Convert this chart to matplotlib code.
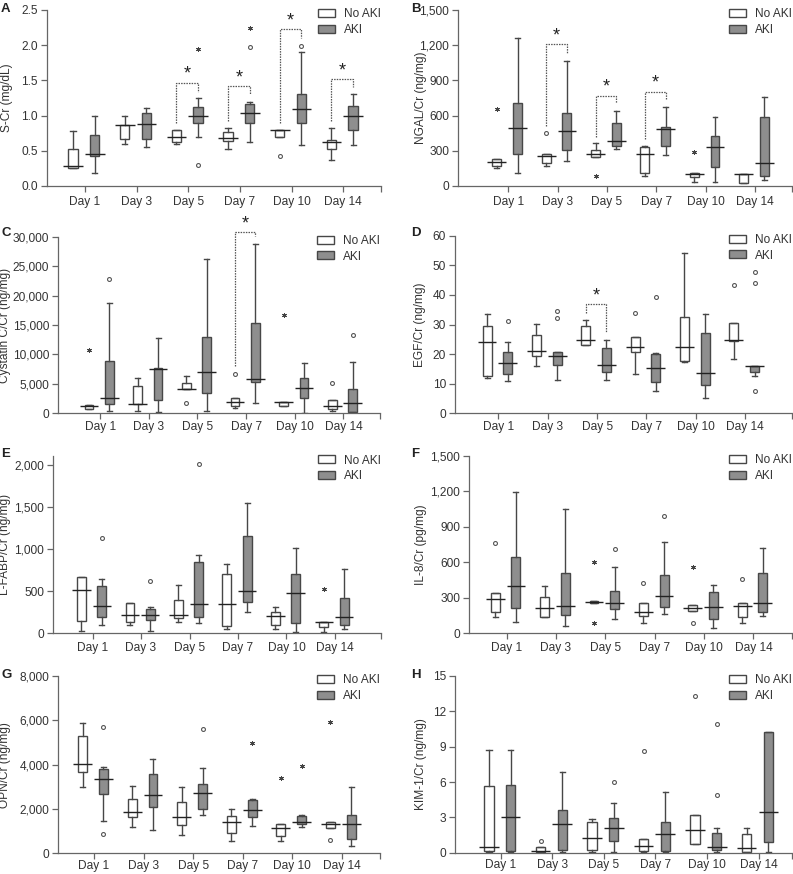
import matplotlib
matplotlib.use('Agg')
import numpy as np
import matplotlib.pyplot as plt
from matplotlib.patches import Patch
from matplotlib.ticker import FuncFormatter

plt.rcParams['font.family'] = ['Liberation Sans', 'DejaVu Sans']

days = ['Day 1', 'Day 3', 'Day 5', 'Day 7', 'Day 10', 'Day 14']
groups = ['No AKI', 'AKI']

# each box: (lower whisker, Q1, median, Q3, upper whisker), one per day
scr_no = [(0.25, 0.25, 0.29, 0.52, 0.78), (0.60, 0.67, 0.87, 0.87, 1.00), (0.60, 0.63, 0.70, 0.80, 0.80),
          (0.53, 0.64, 0.68, 0.76, 0.83), (0.70, 0.70, 0.80, 0.80, 0.80), (0.37, 0.53, 0.62, 0.65, 0.83)]
scr_aki = [(0.19, 0.42, 0.45, 0.73, 0.99), (0.55, 0.67, 0.88, 1.04, 1.11), (0.70, 0.90, 1.00, 1.12, 1.25),
           (0.62, 0.89, 1.04, 1.17, 1.20), (0.58, 0.90, 1.10, 1.31, 1.91), (0.58, 0.79, 1.00, 1.13, 1.30)]
ngal_no = [(150, 170, 207, 227, 227), (173, 199, 253, 270, 270), (250, 250, 276, 304, 364),
           (88, 114, 276, 330, 341), (31, 74, 102, 108, 108), (28, 28, 102, 102, 102)]
ngal_aki = [(114, 273, 491, 710, 1264), (210, 307, 472, 619, 1068), (312, 344, 386, 534, 642),
            (261, 344, 483, 506, 670), (31, 165, 330, 426, 591), (48, 88, 193, 591, 761)]
cys_no = [(736, 736, 1245, 1415, 1415), (340, 1528, 1585, 4698, 5943), (4132, 4132, 4132, 5094, 6396),
          (906, 1302, 1868, 2650, 2650), (1302, 1302, 1868, 1981, 1981), (340, 736, 1302, 2208, 2208)]
cys_aki = [(453, 1585, 2547, 8887, 18679), (283, 2264, 7472, 7641, 12736), (340, 3509, 7075, 13019, 26208),
           (1699, 5266, 5776, 15289, 28760), (0, 2660, 4245, 5943, 8490), (283, 283, 1698, 4132, 8774)]
egf_no = [(11.8, 12.6, 24.0, 29.5, 33.4), (16.0, 19.3, 21.1, 26.5, 30.1), (23.2, 23.2, 24.9, 29.6, 31.5),
          (13.2, 20.6, 22.3, 25.9, 25.9), (17.2, 17.7, 22.3, 32.6, 54.0), (18.3, 24.4, 24.8, 30.4, 30.4)]
egf_aki = [(10.9, 13.2, 16.9, 20.8, 24.1), (11.4, 16.4, 19.3, 20.7, 20.7), (11.1, 13.8, 16.3, 22.0, 24.9),
           (7.5, 10.5, 15.2, 20.0, 20.3), (5.3, 9.6, 13.5, 27.0, 33.7), (12.6, 14.1, 16.1, 16.1, 16.1)]
lfabp_no = [(32, 150, 514, 664, 664), (95, 134, 217, 360, 360), (134, 182, 213, 395, 577),
            (47, 91, 348, 704, 826), (47, 99, 206, 249, 316), (12, 71, 134, 134, 134)]
lfabp_aki = [(95, 198, 324, 561, 640), (24, 154, 217, 289, 308), (119, 190, 348, 842, 933),
             (253, 375, 498, 1154, 1542), (20, 126, 482, 704, 1008), (55, 99, 190, 415, 759)]
il8_no = [(135, 183, 290, 344, 344), (141, 141, 211, 310, 400), (254, 254, 262, 276, 276),
          (90, 149, 180, 254, 254), (189, 189, 214, 242, 242), (85, 141, 234, 259, 259)]
il8_aki = [(99, 211, 403, 643, 1198), (62, 155, 234, 513, 1049), (118, 203, 254, 361, 564),
           (166, 226, 319, 493, 775), (48, 124, 220, 352, 409), (149, 183, 259, 513, 719)]
opn_no = [(2977, 3684, 4030, 5293, 5865), (1203, 1654, 1880, 2436, 3053), (812, 1263, 1624, 2316, 2977),
          (571, 902, 1398, 1699, 1985), (541, 797, 1128, 1338, 1338), (1128, 1128, 1323, 1429, 1429)]
opn_aki = [(1474, 2662, 3338, 3789, 3910), (1038, 2075, 2617, 3564, 4241), (1744, 1985, 2707, 3143, 3865),
           (1248, 1624, 1970, 2391, 2451), (1203, 1338, 1429, 1669, 1744), (346, 632, 1323, 1744, 2977)]
kim_no = [(0.06, 0.11, 0.51, 5.69, 8.69), (0.08, 0.08, 0.14, 0.45, 0.45), (0.06, 0.23, 1.22, 2.58, 2.83),
          (0.06, 0.17, 0.54, 1.13, 1.13), (0.71, 0.71, 1.90, 3.17, 3.17), (0.06, 0.06, 0.37, 1.56, 2.07)]
kim_aki = [(0.03, 0.11, 3.00, 5.75, 8.72), (0.08, 0.25, 2.41, 3.65, 6.85), (0.06, 1.02, 2.07, 2.97, 4.22),
           (0.03, 0.14, 1.56, 2.63, 5.15), (0.06, 0.20, 0.51, 1.67, 2.07), (0.06, 0.88, 3.48, 10.25, 10.25)]

# outliers: (day index, group 0=No AKI 1=AKI, value)
scr_circles = [(2, 1, 0.30), (3, 1, 1.97), (4, 0, 0.43), (4, 1, 1.99)]
scr_stars = [(2, 1, 1.95), (3, 1, 2.24)]
ngal_circles = [(1, 0, 449)]
ngal_stars = [(0, 0, 653), (2, 0, 85), (4, 0, 293)]
cys_circles = [(0, 1, 22755), (2, 0, 1698), (3, 0, 6679), (5, 0, 5094), (5, 1, 13302)]
cys_stars = [(0, 0, 10755), (4, 0, 16698)]
egf_circles = [(0, 1, 31.2), (1, 1, 34.6), (1, 1, 32.1), (3, 0, 33.8), (3, 1, 39.4),
               (5, 0, 43.3), (5, 1, 47.6), (5, 1, 43.9), (5, 1, 7.7)]
egf_stars = []
lfabp_circles = [(0, 1, 1134), (1, 1, 625), (2, 1, 2012)]
lfabp_stars = [(5, 0, 522)]
il8_circles = [(0, 0, 767), (2, 1, 716), (3, 0, 423), (3, 1, 992), (4, 0, 90), (5, 0, 462)]
il8_stars = [(2, 0, 606), (2, 0, 90), (4, 0, 564)]
opn_circles = [(0, 1, 5684), (0, 1, 872), (2, 1, 5594), (5, 0, 602)]
opn_stars = [(3, 1, 4992), (4, 0, 3383), (4, 1, 3940), (5, 0, 5910)]
kim_circles = [(1, 0, 0.99), (2, 1, 6.03), (3, 0, 8.66), (4, 0, 13.3), (4, 1, 10.93), (4, 1, 4.9)]
kim_stars = []

# significance brackets: (day index, y at No AKI end, y of bar, y at AKI end)
scr_sig = [(2, 0.90, 1.47, 1.34), (3, 0.93, 1.42, 1.30), (4, 0.90, 2.23, 2.10), (5, 0.92, 1.52, 1.40)]
ngal_sig = [(1, 511, 1207, 1131), (2, 420, 770, 705), (3, 398, 804, 733)]
cys_sig = [(3, 8085, 30746, 30170)]
egf_sig = [(2, 33.8, 36.8, 27.4)]

W, H = 793, 874
fig = plt.figure(figsize=(W / 100, H / 100), dpi=100)

NO_OFF, AKI_OFF = -0.23, 0.19
EDGE = '#474747'
AKI_FILL = '#8e8e8e'


def make_ax(x0, x1, ytop, ybot):
    return fig.add_axes([x0 / W, 1 - ybot / H, (x1 - x0) / W, (ybot - ytop) / H])


def to_stats(rows):
    return [dict(whislo=r[0], q1=r[1], med=r[2], q3=r[3], whishi=r[4], fliers=[]) for r in rows]


def panel(ax, no, aki, circles, stars, sig, ylim, yticks, fmt, ylabel, xlim, lab_px, box, xpad):
    x = np.arange(1, len(days) + 1)
    for rows, off, fc in [(no, NO_OFF, 'white'), (aki, AKI_OFF, AKI_FILL)]:
        pos = x + off
        ax.bxp(to_stats(rows), positions=pos, widths=0.18, patch_artist=True, showfliers=False,
               capwidths=0.1, manage_ticks=False,
               boxprops=dict(facecolor=fc, edgecolor=EDGE, linewidth=1.0),
               whiskerprops=dict(color=EDGE, linewidth=1.0),
               capprops=dict(color=EDGE, linewidth=1.0),
               medianprops=dict(linestyle='none'))
        meds = [r[2] for r in rows]
        ax.hlines(meds, pos - 0.19, pos + 0.19, color='#222222', linewidth=1.0, zorder=4)

    offs = [NO_OFF, AKI_OFF]
    if circles:
        cx = [x[d] + offs[g] for d, g, v in circles]
        cy = [v for d, g, v in circles]
        ax.plot(cx, cy, ls='none', marker='o', ms=2.8, mfc='white', mec='#555555', mew=0.8,
                clip_on=False)
    if stars:
        sx = [x[d] + offs[g] for d, g, v in stars]
        sy = [v for d, g, v in stars]
        ax.plot(sx, sy, ls='none', marker=(6, 2, 0), ms=3.4, mew=0.7, color='#444444',
                clip_on=False)
    for d, yl, yt, yr in sig:
        xl, xr = x[d] + NO_OFF, x[d] + AKI_OFF
        ax.plot([xl, xl, xr, xr], [yl, yt, yt, yr], ls=(0, (1.2, 0.9)), color='#555555',
                lw=0.9, clip_on=False)
        ax.annotate('*', ((xl + xr) / 2, yt), xytext=(0, 0), textcoords='offset points',
                    ha='center', va='bottom', fontsize=13, color='#222222', annotation_clip=False)

    ax.set_xlim(*xlim)
    ax.set_ylim(*ylim)
    ax.set_xticks(x)
    ax.set_xticklabels(days)
    ax.set_xticks([xlim[1]], minor=True)
    ax.set_yticks(yticks)
    ax.yaxis.set_major_formatter(FuncFormatter(lambda v, p: fmt.format(v)))
    for s in ['top', 'right']:
        ax.spines[s].set_visible(False)
    for s in ['left', 'bottom']:
        ax.spines[s].set_color('#666666')
        ax.spines[s].set_linewidth(0.9)
    ax.tick_params(which='both', direction='out', length=4, width=0.9, color='#666666',
                   labelsize=8.6, labelcolor='#333333', pad=2.5)
    ax.tick_params(axis='x', pad=xpad)
    ax.set_ylabel(ylabel, fontsize=8.6, color='#333333')
    ax.yaxis.set_label_coords((lab_px - box[0]) / (box[1] - box[0]), 0.5)

    handles = [Patch(facecolor='white', edgecolor=EDGE, linewidth=1.0),
               Patch(facecolor=AKI_FILL, edgecolor=EDGE, linewidth=1.0)]
    leg = ax.legend(handles, groups, loc='upper right', bbox_to_anchor=(1.0, 1.01), frameon=False,
                    fontsize=8.6, handlelength=1.45, handleheight=0.65, handletextpad=0.75,
                    labelspacing=0.3, borderpad=0, borderaxespad=0)
    for t in leg.get_texts():
        t.set_color('#333333')


panels = [
    # box px (x0, x1, ytop, ybot), data, ylim, ticks, format, label, xlim, label px, x pad, letter, letter pos
    ((46.7, 381, 10, 186), scr_no, scr_aki, scr_circles, scr_stars, scr_sig, (0, 2.5),
     np.arange(0, 2.51, 0.5), '{:.1f}', 'S-Cr (mg/dL)', (0.26, 6.73), 13, 3.5, 'A', (1, 3)),
    ((458.3, 792, 10, 186), ngal_no, ngal_aki, ngal_circles, ngal_stars, ngal_sig, (0, 1500),
     np.arange(0, 1501, 300), '{:,.0f}', 'NGAL/Cr (ng/mg)', (-0.01, 6.75), 427, 3.5, 'B', (411, 3)),
    ((58.3, 380, 236.7, 413.3), cys_no, cys_aki, cys_circles, cys_stars, cys_sig, (0, 30000),
     np.arange(0, 30001, 5000), '{:,.0f}', 'Cystatin C/Cr (ng/mg)', (0.14, 6.75), 11, 1.5, 'C', (2, 227)),
    ((455, 792, 235.7, 413.3), egf_no, egf_aki, egf_circles, egf_stars, egf_sig, (0, 60),
     np.arange(0, 61, 10), '{:.0f}', 'EGF/Cr (ng/mg)', (0.12, 6.95), 426, 1.5, 'D', (411, 227)),
    ((53.3, 381, 456.3, 633.3), lfabp_no, lfabp_aki, lfabp_circles, lfabp_stars, [], (0, 2100),
     np.arange(0, 2001, 500), '{:,.0f}', 'L-FABP/Cr (ng/mg)', (0.19, 6.95), 11, 2.5, 'E', (1, 448)),
    ((469, 792, 456, 633.3), il8_no, il8_aki, il8_circles, il8_stars, [], (0, 1500),
     np.arange(0, 1501, 300), '{:,.0f}', 'IL-8/Cr (pg/mg)', (0.24, 6.78), 427, 2.5, 'F', (411, 448)),
    ((58.3, 380, 676, 853.3), opn_no, opn_aki, opn_circles, opn_stars, [], (0, 8000),
     np.arange(0, 8001, 2000), '{:,.0f}', 'OPN/Cr (ng/mg)', (0.28, 6.77), 11, 0.5, 'G', (1, 669)),
    ((455, 792, 676, 852.7), kim_no, kim_aki, kim_circles, kim_stars, [], (0, 15),
     np.arange(0, 16, 3), '{:.0f}', 'KIM-1/Cr (ng/mg)', (0.11, 6.65), 427, 0.5, 'H', (411, 669)),
]

for (box, no, aki, circ, star, sig, ylim, ticks, fmt, lab, xlim, lab_px, xpad, letter, lpos) in panels:
    ax = make_ax(*box)
    panel(ax, no, aki, circ, star, sig, ylim, ticks, fmt, lab, xlim, lab_px, box, xpad)
    fig.text(lpos[0] / W, 1 - lpos[1] / H, letter, fontsize=9.5, fontweight='bold',
             color='#222222', ha='left', va='top')

fig.savefig('out.png', dpi=100)
